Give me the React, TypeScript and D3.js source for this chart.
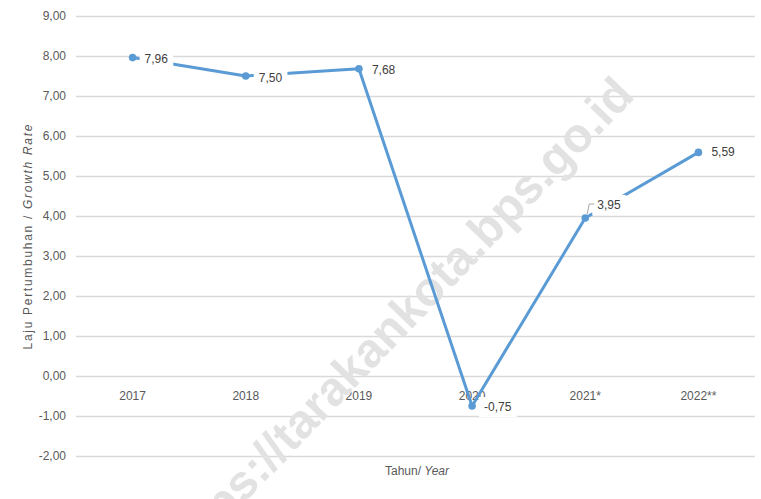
import { useEffect, useRef } from 'react';
import * as d3 from 'd3';

const years = ['2017', '2018', '2019', '2020', '2021*', '2022**'];
const growth = [7.96, 7.5, 7.68, -0.75, 3.95, 5.59];
const yTicks = [-2, -1, 0, 1, 2, 3, 4, 5, 6, 7, 8, 9];

const FONT = "'Liberation Sans', Arial, sans-serif";
const TEXT = '#595959';
const LINE = '#5b9bd5';

const fmt = (v: number) => d3.format('.2f')(v).replace('.', ',').replace('\u2212', '-');

export default function App() {
  const ref = useRef<SVGSVGElement>(null);

  useEffect(() => {
    if (!ref.current) return;
    const svg = d3.select(ref.current);
    svg.selectAll('*').remove();

    const width = 761;
    const height = 499;
    const left = 76;
    const right = 755;

    const x = d3.scaleBand<string>().domain(years).range([left, right]);
    const y = d3.scaleLinear().domain([-2, 9]).range([456, 16]);
    const cx = (d: string) => x(d)! + x.bandwidth() / 2;

    svg.append('rect').attr('width', width).attr('height', height).attr('fill', '#fff');

    // gridlines
    svg.append('g')
      .attr('transform', `translate(${left},0)`)
      .call(d3.axisLeft(y).tickValues(yTicks).tickSize(-(right - left)).tickFormat(() => ''))
      .call(g => g.select('.domain').remove())
      .selectAll('line')
      .attr('stroke', '#d9d9d9')
      .attr('stroke-width', 1.3);

    // y tick labels
    svg.append('g')
      .selectAll('text')
      .data(yTicks)
      .join('text')
      .attr('x', 66)
      .attr('y', d => y(d) + 4)
      .attr('text-anchor', 'end')
      .style('font-family', FONT)
      .style('font-size', '12px')
      .style('fill', TEXT)
      .text(d => fmt(d));

    // x tick labels (sit under the zero line)
    svg.append('g')
      .selectAll('text')
      .data(years)
      .join('text')
      .attr('x', d => cx(d))
      .attr('y', y(0) + 24)
      .attr('text-anchor', 'middle')
      .style('font-family', FONT)
      .style('font-size', '12px')
      .style('fill', TEXT)
      .text(d => d);

    // watermark
    svg.append('text')
      .attr('transform', 'translate(636,97) rotate(-46)')
      .attr('text-anchor', 'end')
      .style('font-family', FONT)
      .style('font-weight', 'bold')
      .style('font-size', '48px')
      .style('fill', '#e2e2e2')
      .text('https://tarakankota.bps.go.id');

    // line
    const pts = years.map((d, i) => [cx(d), y(growth[i])] as [number, number]);
    svg.append('path')
      .datum(pts)
      .attr('d', d3.line())
      .attr('fill', 'none')
      .attr('stroke', LINE)
      .attr('stroke-width', 3)
      .attr('stroke-linejoin', 'round');

    svg.append('g')
      .selectAll('circle')
      .data(pts)
      .join('circle')
      .attr('cx', d => d[0])
      .attr('cy', d => d[1])
      .attr('r', 3.8)
      .attr('fill', LINE);

    // data labels with white boxes
    const offsets = [[12, 1], [13, 2], [13, 1], [12, 1], [12, -13], [13, 0]];
    const labels = svg.append('g');
    growth.forEach((v, i) => {
      const [px, py] = pts[i];
      const lx = px + offsets[i][0];
      const ly = py + offsets[i][1];
      const g = labels.append('g');
      const t = g.append('text')
        .attr('x', lx)
        .attr('y', ly + 4)
        .style('font-family', FONT)
        .style('font-size', '12px')
        .style('fill', '#404040')
        .text(fmt(v));
      const bb = (t.node() as SVGTextElement).getBBox();
      g.insert('rect', 'text')
        .attr('x', bb.x - 5)
        .attr('y', bb.y - 3)
        .attr('width', bb.width + 10)
        .attr('height', bb.height + 6)
        .attr('fill', '#fff');
      if (offsets[i][1] < -5) {
        g.append('path')
          .attr('d', `M${px + 2},${py - 4} L${px + 4},${ly - 1} L${lx - 3},${ly - 1}`)
          .attr('fill', 'none')
          .attr('stroke', '#a6a6a6')
          .attr('stroke-width', 1);
      }
    });

    // axis titles
    const yt = svg.append('text')
      .attr('transform', `translate(32,${237}) rotate(-90)`)
      .attr('text-anchor', 'middle')
      .attr('textLength', 225)
      .attr('lengthAdjust', 'spacing')
      .style('font-family', FONT)
      .style('font-size', '12px')
      .style('fill', TEXT);
    yt.append('tspan').text('Laju Pertumbuhan / ');
    yt.append('tspan').style('font-style', 'italic').text('Growth  Rate');

    const xt = svg.append('text')
      .attr('x', 417)
      .attr('y', 475)
      .attr('text-anchor', 'middle')
      .style('font-family', FONT)
      .style('font-size', '12px')
      .style('fill', TEXT);
    xt.append('tspan').text('Tahun/ ');
    xt.append('tspan').style('font-style', 'italic').text('Year');
  }, []);

  return (
    <svg
      ref={ref}
      width={761}
      height={499}
      style={{ position: 'absolute', left: 0, top: 0 }}
    />
  );
}
